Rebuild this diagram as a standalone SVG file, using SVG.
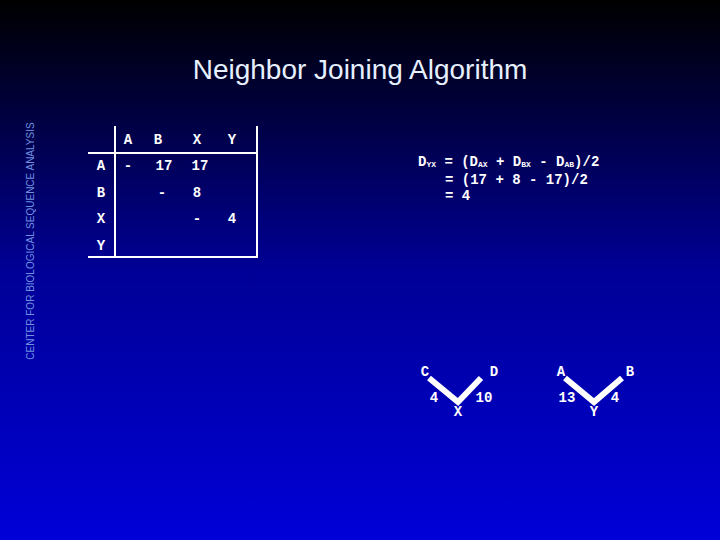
<svg xmlns="http://www.w3.org/2000/svg" width="720" height="540" viewBox="0 0 720 540">
<defs>
<linearGradient id="bg" x1="0" y1="0" x2="0" y2="1">
<stop offset="0" stop-color="#000000"/>
<stop offset="0.5" stop-color="#000096"/>
<stop offset="1" stop-color="#0000d8"/>
</linearGradient>
<style>
.m{font-family:"Liberation Mono","Courier New",monospace;font-weight:bold;font-size:14px;fill:#ffffff;text-anchor:middle}
.e{font-family:"Liberation Mono","Courier New",monospace;font-weight:bold;font-size:14px;fill:#ffffff}
.s{font-size:8px}
.ln{stroke:#ffffff;stroke-width:2;fill:none}
.br{stroke:#ffffff;stroke-width:6;fill:none;stroke-linejoin:miter}
</style>
</defs>
<rect width="720" height="540" fill="url(#bg)"/>
<text x="360" y="79" font-family="Liberation Sans, Arial, sans-serif" font-size="28" fill="#e6f0ff" text-anchor="middle">Neighbor Joining Algorithm</text>
<text transform="translate(34,241) rotate(-90)" font-family="Liberation Sans, Arial, sans-serif" font-size="10" fill="#7090e0" text-anchor="middle">CENTER FOR BIOLOGICAL SEQUENCE ANALYSIS</text>
<g id="table">
<line class="ln" x1="115" y1="126" x2="115" y2="258"/>
<line class="ln" x1="257" y1="126" x2="257" y2="258"/>
<line class="ln" x1="88" y1="153" x2="258" y2="153"/>
<line class="ln" x1="88" y1="257" x2="258" y2="257"/>
<text class="m" x="128" y="144">A</text>
<text class="m" x="158" y="144">B</text>
<text class="m" x="197" y="144">X</text>
<text class="m" x="232" y="144">Y</text>
<text class="m" x="101" y="170">A</text>
<text class="m" x="101" y="197">B</text>
<text class="m" x="101" y="223">X</text>
<text class="m" x="101" y="250">Y</text>
<text class="m" x="128" y="170">-</text>
<text class="m" x="164" y="170">17</text>
<text class="m" x="200" y="170">17</text>
<text class="m" x="162" y="197">-</text>
<text class="m" x="197" y="197">8</text>
<text class="m" x="197" y="223">-</text>
<text class="m" x="232" y="223">4</text>
</g>
<g id="equation">
<text class="e" x="418" y="166">D<tspan class="s" dy="1">YX</tspan><tspan dy="-1"> = (D</tspan><tspan class="s" dy="1">AX</tspan><tspan dy="-1"> + D</tspan><tspan class="s" dy="1">BX</tspan><tspan dy="-1"> - D</tspan><tspan class="s" dy="1">AB</tspan><tspan dy="-1">)/2</tspan></text>
<text class="e" x="445" y="184">= (17 + 8 - 17)/2</text>
<text class="e" x="445" y="200">= 4</text>
</g>
<g id="tree-x">
<polyline class="br" points="429,378 458,402 481,378"/>
<text class="m" x="425" y="376" font-size="12">C</text>
<text class="m" x="494" y="376" font-size="12">D</text>
<text class="m" x="434" y="402" font-size="12">4</text>
<text class="m" x="458" y="416" font-size="12">X</text>
<text class="m" x="484" y="402" font-size="12">10</text>
</g>
<g id="tree-y">
<polyline class="br" points="565,378 594,402 622,378"/>
<text class="m" x="561" y="376" font-size="12">A</text>
<text class="m" x="630" y="376" font-size="12">B</text>
<text class="m" x="567" y="402" font-size="12">13</text>
<text class="m" x="594" y="416" font-size="12">Y</text>
<text class="m" x="615" y="402" font-size="12">4</text>
</g>
</svg>
